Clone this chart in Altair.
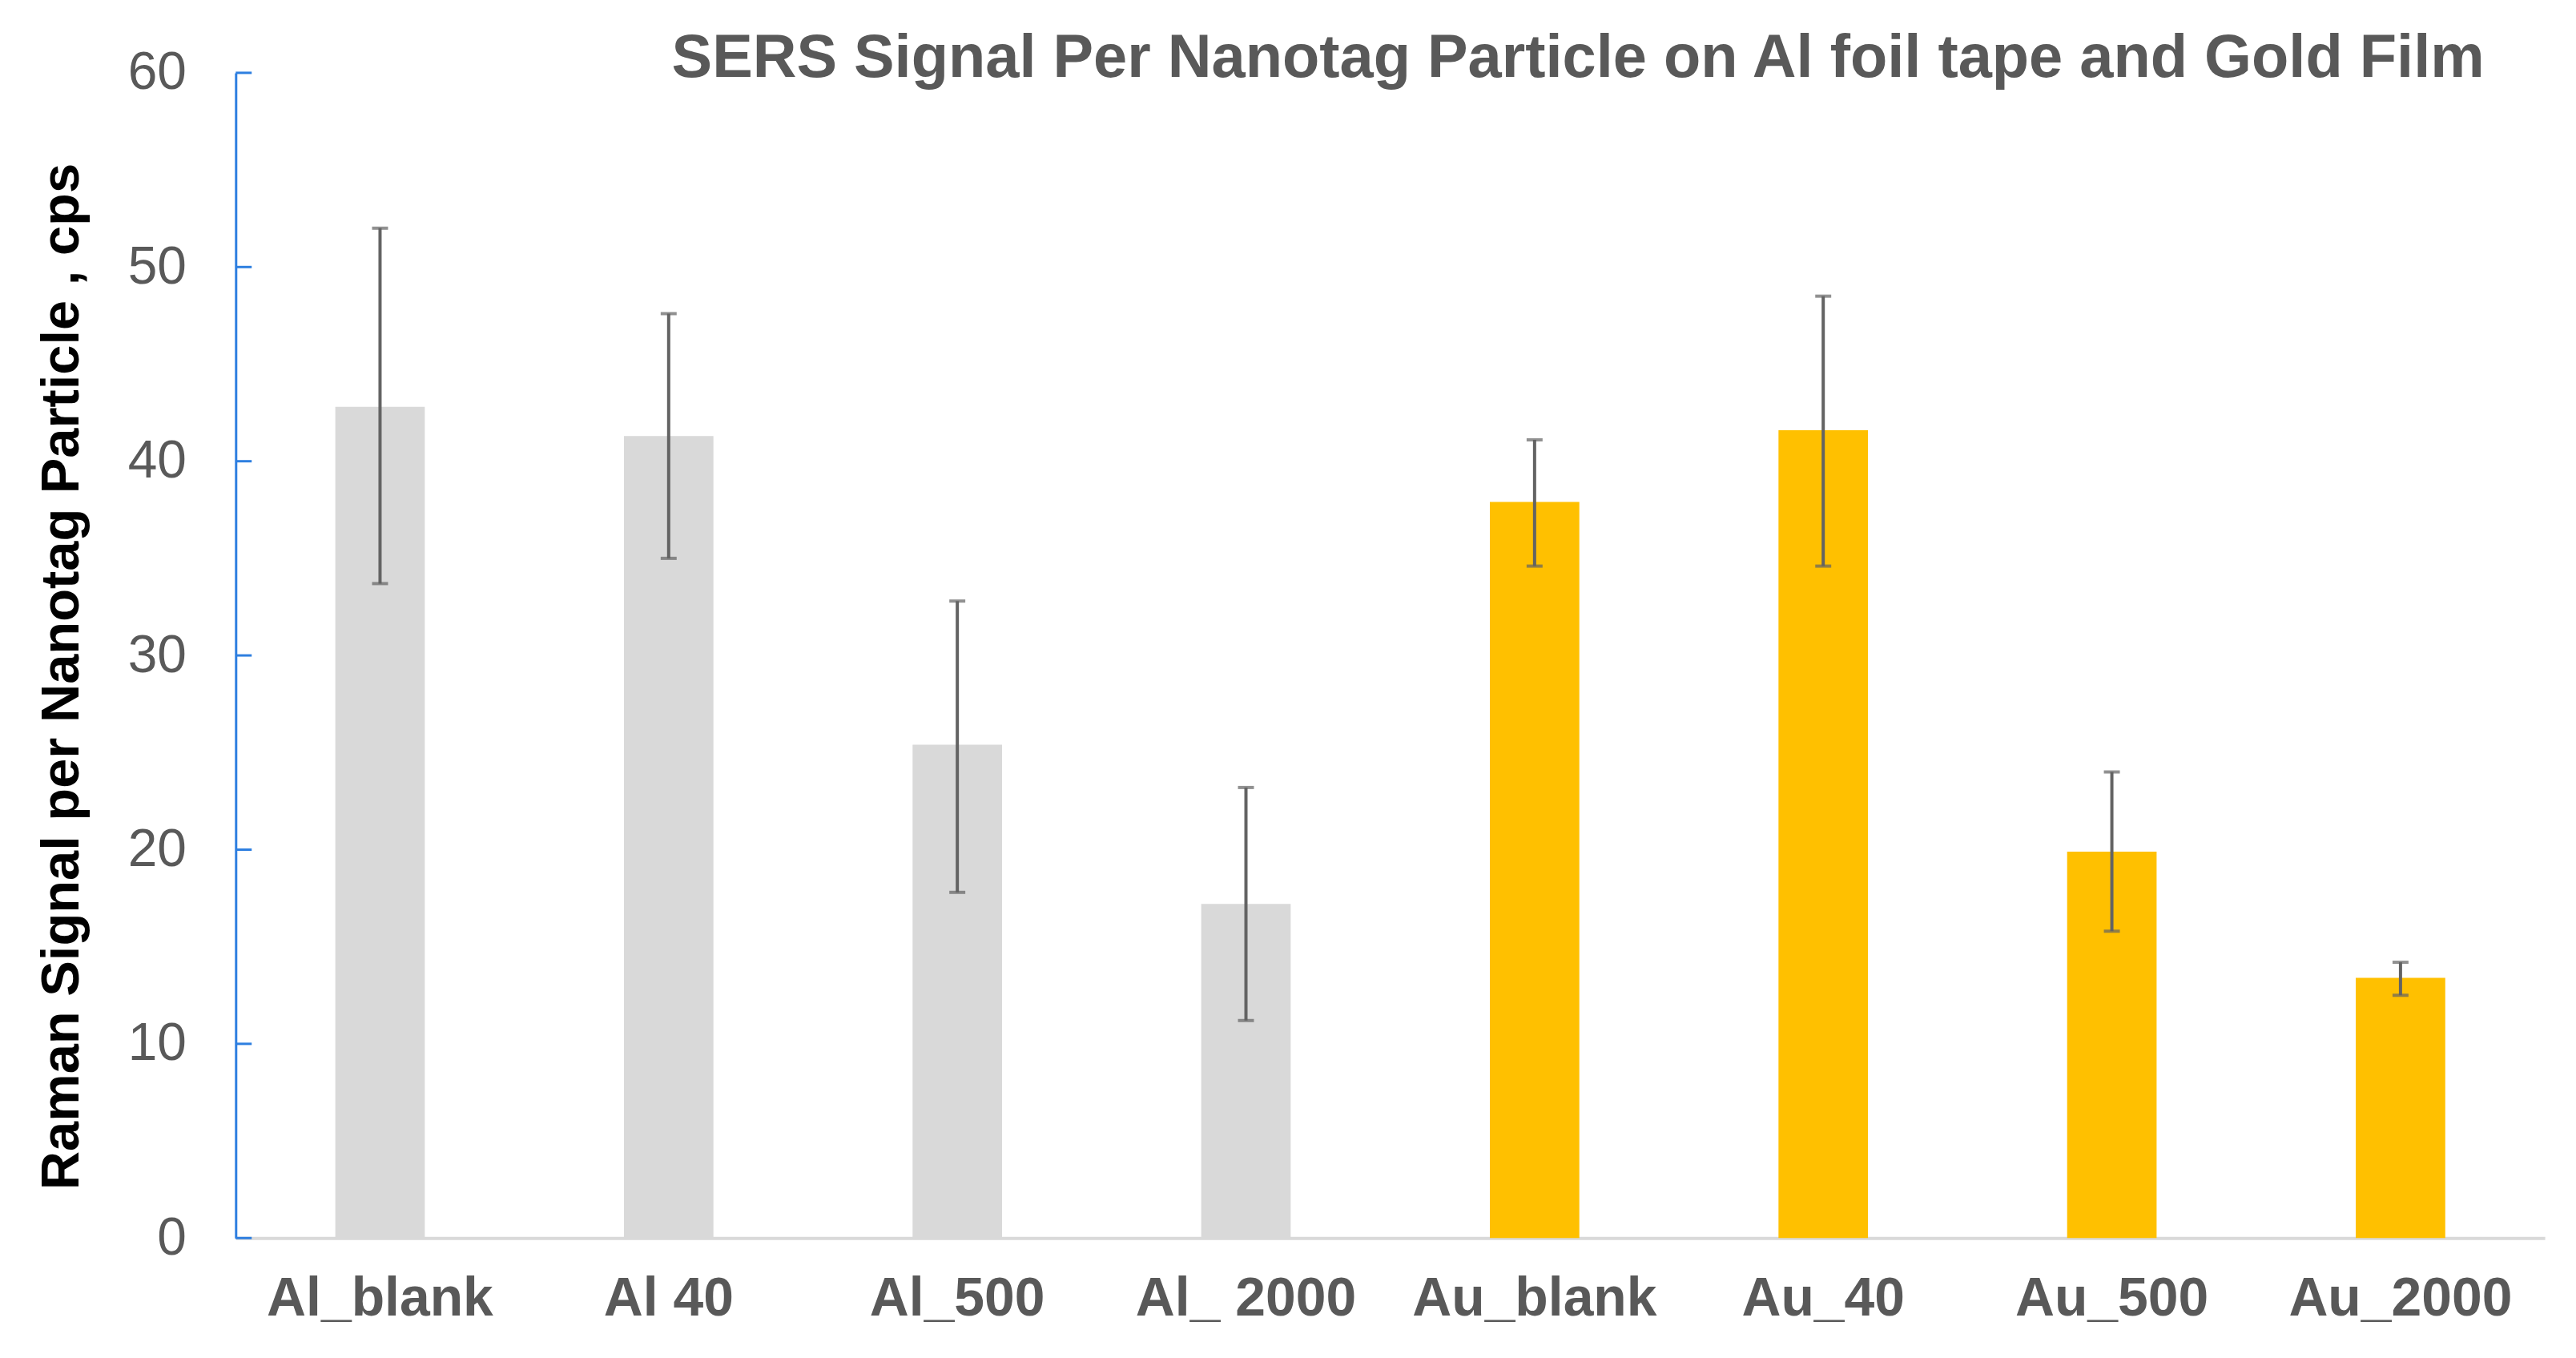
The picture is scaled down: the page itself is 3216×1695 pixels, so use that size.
import altair as alt
import pandas as pd

categories = ["Al_blank", "Al 40", "Al_500", "Al_ 2000", "Au_blank", "Au_40", "Au_500", "Au_2000"]
groups = ["Al", "Al", "Al", "Al", "Au", "Au", "Au", "Au"]
means = [42.8, 41.3, 25.4, 17.2, 37.9, 41.6, 19.9, 13.4]
err_low = [33.7, 35.0, 17.8, 11.2, 34.6, 34.6, 15.8, 12.5]
err_high = [52.0, 47.6, 32.8, 23.2, 41.1, 48.5, 24.0, 14.2]
y_ticks = [0, 10, 20, 30, 40, 50, 60]

df = pd.DataFrame({
    "cat": categories,
    "group": groups,
    "mean": means,
    "lo": err_low,
    "hi": err_high,
})
ticks_df = pd.DataFrame({"t": y_ticks})

FONT = "Liberation Sans"
GREY = "#595959"
BLUE = "#2E7FE0"

x_enc = alt.X(
    "cat:N",
    sort=categories,
    scale=alt.Scale(paddingInner=0, paddingOuter=0),
    axis=alt.Axis(
        title=None,
        labelAngle=0,
        labelFont=FONT,
        labelFontSize=68,
        labelFontWeight="bold",
        labelColor=GREY,
        labelPadding=42,
        labelLimit=0,
        ticks=False,
        domainColor="#D9D9D9",
        domainWidth=4,
        grid=False,
    ),
)

y_scale = alt.Scale(domain=[0, 60], nice=False, zero=True)

bars = alt.Chart(df).mark_bar(width=alt.RelativeBandSize(0.31)).encode(
    x=x_enc,
    y=alt.Y(
        "mean:Q",
        scale=y_scale,
        axis=alt.Axis(
            title="Raman Signal  per Nanotag Particle , cps",
            titleFont=FONT,
            titleFontSize=67,
            titleFontWeight="bold",
            titleColor="#000000",
            titlePadding=48,
            titleY=755,
            values=y_ticks,
            labelFont=FONT,
            labelFontSize=66,
            labelColor=GREY,
            labelPadding=62,
            ticks=False,
            domainColor=BLUE,
            domainWidth=3,
            grid=False,
        ),
    ),
    color=alt.Color(
        "group:N",
        scale=alt.Scale(domain=["Al", "Au"], range=["#D9D9D9", "#FFC000"]),
        legend=None,
    ),
)

err_rule = alt.Chart(df).mark_rule(color="#636363", strokeWidth=4).encode(
    x=alt.X("cat:N", sort=categories),
    y=alt.Y("lo:Q", scale=y_scale),
    y2="hi:Q",
)

cap_lo = alt.Chart(df).mark_tick(color="#636363", size=20, thickness=4, orient="horizontal").encode(
    x=alt.X("cat:N", sort=categories),
    y=alt.Y("lo:Q", scale=y_scale),
)
cap_hi = alt.Chart(df).mark_tick(color="#636363", size=20, thickness=4, orient="horizontal").encode(
    x=alt.X("cat:N", sort=categories),
    y=alt.Y("hi:Q", scale=y_scale),
)

tick_marks = alt.Chart(ticks_df).mark_rule(color=BLUE, strokeWidth=3).encode(
    y=alt.Y("t:Q", scale=y_scale),
    x=alt.value(0),
    x2=alt.value(20),
)

chart = alt.layer(bars, err_rule, cap_lo, cap_hi, tick_marks).properties(
    width=2890,
    height=1458,
    background="white",
    autosize=alt.AutoSizeParams(type="none"),
    padding={"left": 287, "top": 81, "right": 31, "bottom": 148},
    title=alt.TitleParams(
        text="SERS Signal Per Nanotag Particle on Al foil tape and Gold Film",
        font=FONT,
        fontSize=76,
        fontWeight="bold",
        color=GREY,
        anchor="middle",
        frame="group",
        baseline="alphabetic",
        offset=0,
        dx=235,
        dy=114,
    ),
).configure_view(strokeWidth=0, stroke="transparent")

chart.save("out.html", embed_options={"renderer": "svg", "actions": False})
